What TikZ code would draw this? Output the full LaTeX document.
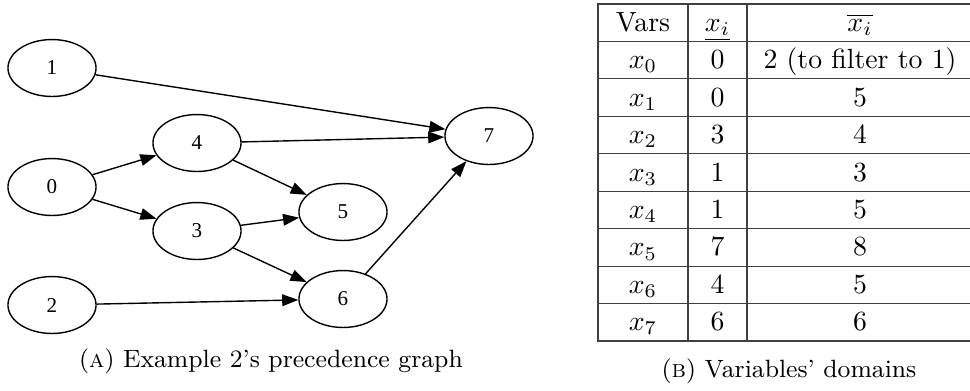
\documentclass[tikz,border=0pt]{standalone}
\usepackage{fontspec}
\usepackage{amsmath}
\usepackage{amssymb}
\usetikzlibrary{shapes.geometric,arrows.meta}
\newfontfamily\gvfont{Liberation Serif}

\begin{document}
\begin{tikzpicture}[x=0.36pt,y=-0.36pt,task/.style={shape=ellipse,draw=black,line width=0.5pt,minimum width=31.7pt,minimum height=20.5pt,inner sep=0pt,font=\gvfont\fontsize{7.6}{9}\selectfont},prec/.style={line width=0.5pt,-{Triangle[length=5.8pt,width=4.2pt]}},rule/.style={draw=black!75,line width=0.4pt},cell/.style={anchor=base},capt/.style={anchor=base,font=\small}]
\def\ca{643};
\def\cb{717.5};
\def\cc{860};

\useasboundingbox (0,0) rectangle (970,390);

\node[task] (T1) at (52,68) {1};
\node[task] (T0) at (52,187) {0};
\node[task] (T2) at (52,305) {2};
\node[task] (T4) at (197,143) {4};
\node[task] (T3) at (197,231) {3};
\node[task] (T5) at (343,212) {5};
\node[task] (T6) at (343,299) {6};
\node[task] (T7) at (489,136) {7};

\draw[prec] (T1) -- (T7);
\draw[prec] (T0) -- (T4);
\draw[prec] (T0) -- (T3);
\draw[prec] (T4) -- (T7);
\draw[prec] (T4) -- (T5);
\draw[prec] (T3) -- (T5);
\draw[prec] (T3) -- (T6);
\draw[prec] (T2) -- (T6);
\draw[prec] (T6) -- (T7);

\node[capt] (CA) at (271,367) {(\textsc{a}) Example 2's precedence graph};

\draw[rule] (598,4) rectangle (976,341);
\draw[rule] (598,41.44) -- (976,41.44);
\draw[rule] (598,78.88) -- (976,78.88);
\draw[rule] (598,116.32) -- (976,116.32);
\draw[rule] (598,153.76) -- (976,153.76);
\draw[rule] (598,191.2) -- (976,191.2);
\draw[rule] (598,228.64) -- (976,228.64);
\draw[rule] (598,266.08) -- (976,266.08);
\draw[rule] (598,303.52) -- (976,303.52);
\draw[rule] (688,4) -- (688,341);
\draw[rule] (747,4) -- (747,341);

\node[cell] (HV) at (\ca,31.3) {Vars};
\node[cell] (HL) at (\cb,31.3) {$\underline{x_i}$};
\node[cell] (HU) at (\cc,31.3) {$\overline{x_i}$};
\node[cell] (V0) at (\ca,68.7) {$x_0$};
\node[cell] (L0) at (\cb,68.7) {0};
\node[cell] (U0) at (\cc,68.7) {2 (to filter to 1)};
\node[cell] (V1) at (\ca,106.2) {$x_1$};
\node[cell] (L1) at (\cb,106.2) {0};
\node[cell] (U1) at (\cc,106.2) {5};
\node[cell] (V2) at (\ca,143.6) {$x_2$};
\node[cell] (L2) at (\cb,143.6) {3};
\node[cell] (U2) at (\cc,143.6) {4};
\node[cell] (V3) at (\ca,181.1) {$x_3$};
\node[cell] (L3) at (\cb,181.1) {1};
\node[cell] (U3) at (\cc,181.1) {3};
\node[cell] (V4) at (\ca,218.5) {$x_4$};
\node[cell] (L4) at (\cb,218.5) {1};
\node[cell] (U4) at (\cc,218.5) {5};
\node[cell] (V5) at (\ca,255.9) {$x_5$};
\node[cell] (L5) at (\cb,255.9) {7};
\node[cell] (U5) at (\cc,255.9) {8};
\node[cell] (V6) at (\ca,293.4) {$x_6$};
\node[cell] (L6) at (\cb,293.4) {4};
\node[cell] (U6) at (\cc,293.4) {5};
\node[cell] (V7) at (\ca,330.8) {$x_7$};
\node[cell] (L7) at (\cb,330.8) {6};
\node[cell] (U7) at (\cc,330.8) {6};

\node[capt] (CB) at (789,377) {(\textsc{b}) Variables' domains};
\end{tikzpicture}
\end{document}
